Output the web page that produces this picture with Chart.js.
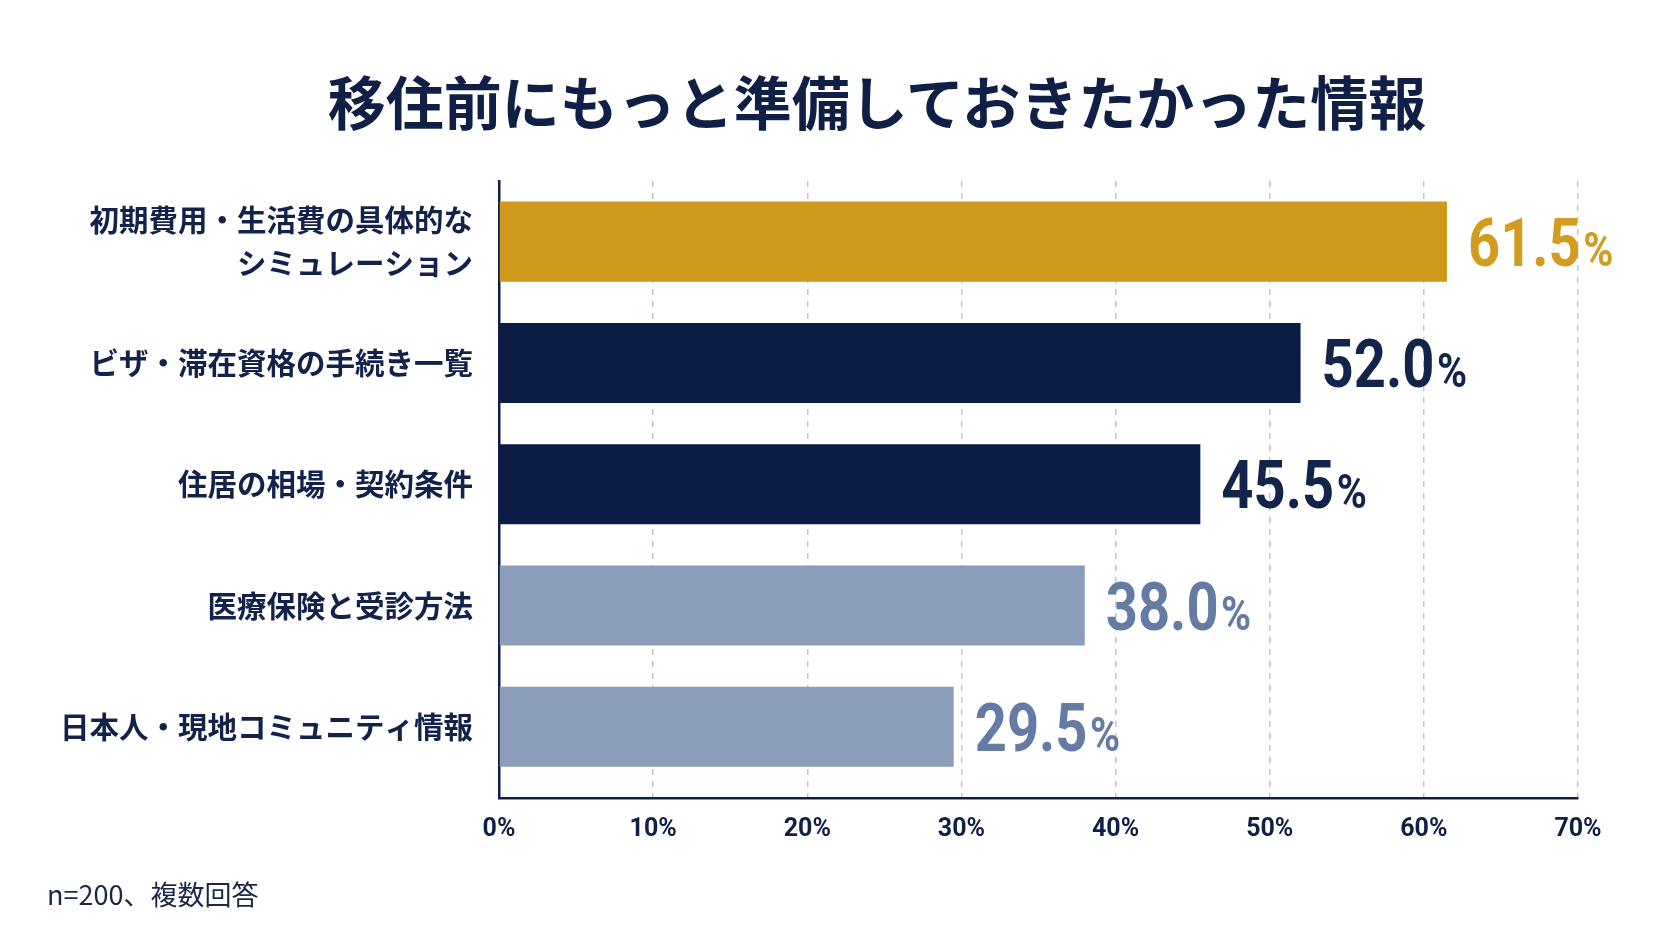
<!DOCTYPE html>
<html lang="ja">
<head>
<meta charset="utf-8">
<title>移住前にもっと準備しておきたかった情報</title>
<script src="https://cdn.jsdelivr.net/npm/chart.js@4.4.1/dist/chart.umd.min.js"></script>
<style>
  html, body { margin: 0; padding: 0; background: #ffffff; }
  #contenedor { position: relative; width: 1672px; height: 941px; overflow: hidden; }
  #titulo {
    position: absolute; left: 877px; top: 71px; transform: translateX(-50%);
    white-space: nowrap; font: bold 58px/58px "Noto Sans CJK JP", sans-serif; color: #0f1f45;
  }
  #nota {
    position: absolute; left: 47px; top: 880px;
    font: 27px/27px "Noto Sans CJK JP", sans-serif; color: #1c2648;
  }
  canvas { position: absolute; left: 0; top: 0; }
</style>
</head>
<body>
<div id="contenedor">
  <canvas id="myChart" width="1672" height="941"></canvas>
  <div id="titulo">移住前にもっと準備しておきたかった情報</div>
  <div id="nota">n=200、複数回答</div>
</div>
<script>
const categorias = [
  ["初期費用・生活費の具体的な", "シミュレーション"],
  "ビザ・滞在資格の手続き一覧",
  "住居の相場・契約条件",
  "医療保険と受診方法",
  "日本人・現地コミュニティ情報",
];
const porcentajes = [61.5, 52.0, 45.5, 38.0, 29.5];
const ticksEje = [0, 10, 20, 30, 40, 50, 60, 70];

const coloresBarra = ["#cf9a1c", "#0b1d45", "#0b1d45", "#8a9dbb", "#8a9dbb"];
const coloresTexto = ["#d29d1f", "#13244a", "#13244a", "#647ca3", "#647ca3"];
const azul = "#0f1f45";

// etiqueta grande al final de cada barra: numero + "%" mas chico
const etiquetas = {
  id: "etiquetas",
  afterDatasetsDraw: (chart) => {
    const ctx = chart.ctx;
    const barras = chart.getDatasetMeta(0).data;
    barras.forEach((barra, i) => {
      const texto = porcentajes[i].toFixed(1);
      const escala = 0.85;
      ctx.save();
      ctx.translate(barra.x + 21, barra.y + 24);
      ctx.scale(escala, 1);
      ctx.fillStyle = coloresTexto[i];
      ctx.textBaseline = "alphabetic";
      ctx.textAlign = "left";
      ctx.font = "bold 66px Roboto, 'Liberation Sans', sans-serif";
      ctx.fillText(texto, 0, 0);
      const ancho = ctx.measureText(texto).width;
      ctx.font = "bold 48px Roboto, 'Liberation Sans', sans-serif";
      ctx.fillText("%", ancho + 3, 0);
      ctx.restore();
    });
  },
};

const config = {
  type: "bar",
  data: {
    labels: categorias,
    datasets: [
      {
        data: porcentajes,
        backgroundColor: coloresBarra,
        borderWidth: 0,
        categoryPercentage: 0.66,
        barPercentage: 1,
      },
    ],
  },
  options: {
    indexAxis: "y",
    responsive: false,
    animation: false,
    layout: { padding: { left: 0, right: 94, top: 181, bottom: 83 } },
    plugins: {
      legend: { display: false },
      tooltip: { enabled: false },
    },
    scales: {
      x: {
        min: 0,
        max: 70,
        afterBuildTicks: (eje) => {
          eje.ticks = ticksEje.map((v) => ({ value: v }));
        },
        afterFit: (eje) => {
          eje.height = 60;
        },
        grid: {
          color: (c) => (c.tick && c.tick.value === 0 ? "rgba(0,0,0,0)" : "#bcc6da"),
          lineWidth: 1.5,
          drawTicks: false,
        },
        border: { display: true, color: azul, width: 2.5, dash: [6, 6] },
        ticks: {
          padding: 17,
          color: azul,
          font: { family: "Roboto, 'Liberation Sans', sans-serif", size: 25, weight: "bold" },
          callback: (valor) => `${valor}%`,
        },
      },
      y: {
        // deja un pequeño hueco entre la ultima barra y el eje
        afterBuildTicks: (eje) => {
          eje._valueRange = eje._valueRange + 0.087;
        },
        afterFit: (eje) => {
          eje.width = 499;
        },
        grid: { display: false, drawTicks: false },
        border: { display: true, color: azul, width: 2.5 },
        ticks: {
          padding: 26,
          color: "#13224a",
          font: { family: "'Noto Sans CJK JP', sans-serif", size: 29.5, weight: "bold", lineHeight: 1.45 },
        },
      },
    },
  },
  plugins: [etiquetas],
};

const myChart = document.getElementById("myChart");
new Chart(myChart, config);
</script>
</body>
</html>
